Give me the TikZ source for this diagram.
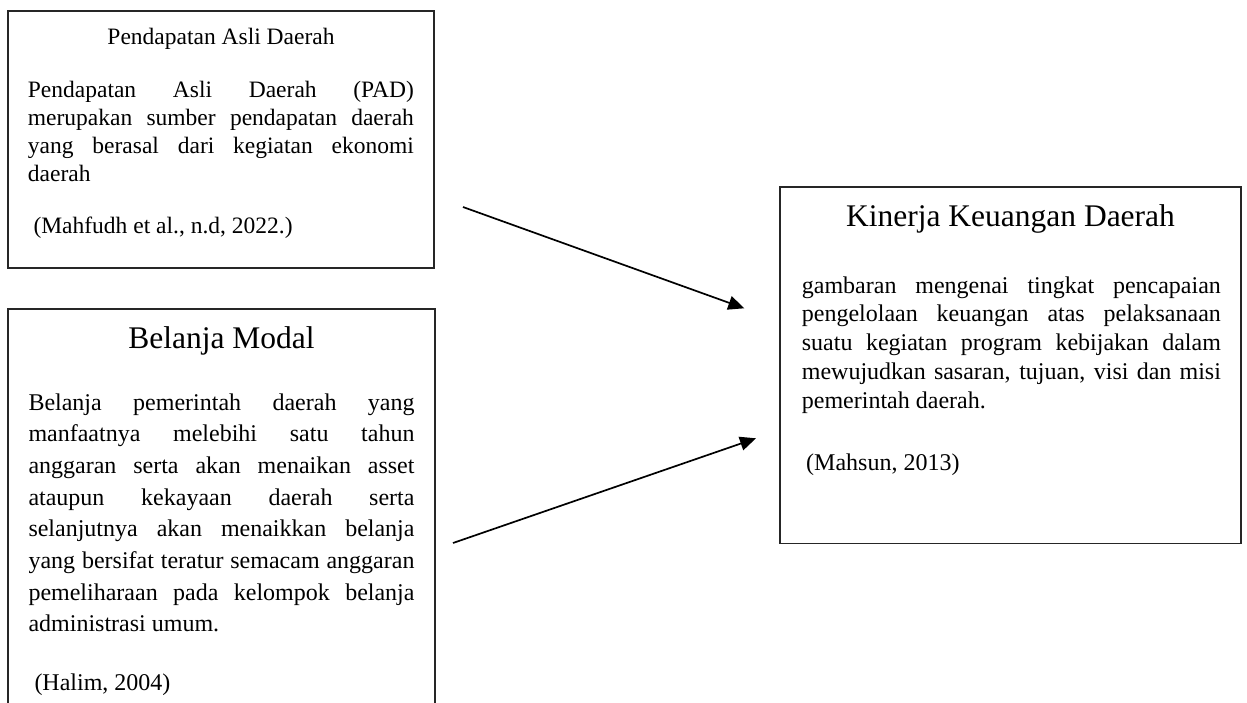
\documentclass[tikz,border=0pt]{standalone}
\usepackage{fontspec}
\setmainfont{Liberation Serif}
\usetikzlibrary{arrows.meta}
\newcommand{\jline}[2]{\makebox[#1][s]{\spaceskip=0pt\xspaceskip=0pt #2}}
\newcommand{\lline}[2]{\makebox[#1][l]{\spaceskip=0pt\xspaceskip=0pt #2}}
\begin{document}
\begin{tikzpicture}[x=1pt,y=-1pt,
  frame/.style={draw=black!85, line width=1.2pt, inner sep=0pt, outer sep=0pt, anchor=north west},
  ttl/.style={anchor=base, inner sep=0pt},
  bodytxt/.style={anchor=base west, inner sep=0pt, align=left},
  cite/.style={anchor=base west, inner sep=0pt},
  conn/.style={line width=1.7pt, -{Triangle[length=16pt,width=14pt]}}]
\useasboundingbox (0,0) rectangle (1247,702);

% Box 1: Pendapatan Asli Daerah
\node[frame, minimum width=426pt, minimum height=257pt] (pad) at (8,11) {};
\node[ttl, font=\fontsize{23.5pt}{27.8pt}\selectfont] (padT) at (221,44.3) {Pendapatan Asli Daerah};
\node[bodytxt, text width=386pt, font=\fontsize{23.5pt}{27.8pt}\selectfont] (padB) at (27.7,97.7)
  {\jline{386pt}{Pendapatan Asli Daerah (PAD)}\\
   \jline{386pt}{merupakan sumber pendapatan daerah}\\
   \jline{386pt}{yang berasal dari kegiatan ekonomi}\\
   \lline{386pt}{daerah}};
\node[cite, font=\fontsize{23.5pt}{27.8pt}\selectfont] (padC) at (33.3,233.3) {(Mahfudh et al., n.d, 2022.)};

% Box 2: Belanja Modal (open at the bottom)
\node[inner sep=0pt, outer sep=0pt, anchor=north west, minimum width=427pt, minimum height=394pt] (bm) at (8,309) {};
\draw[draw=black!85, line width=1.2pt] (bm.south west) |- (bm.north east) -- (bm.south east);
\node[ttl, font=\fontsize{31.5pt}{36pt}\selectfont] (bmT) at (221.5,348.3) {Belanja Modal};
\node[bodytxt, text width=386pt, font=\fontsize{24pt}{31.7pt}\selectfont] (bmB) at (28.3,410)
  {\jline{386pt}{Belanja pemerintah daerah yang}\\
   \jline{386pt}{manfaatnya melebihi satu tahun}\\
   \jline{386pt}{anggaran serta akan menaikan asset}\\
   \jline{386pt}{ataupun kekayaan daerah serta}\\
   \jline{386pt}{selanjutnya akan menaikkan belanja}\\
   \jline{386pt}{yang bersifat teratur semacam anggaran}\\
   \jline{386pt}{pemeliharaan pada kelompok belanja}\\
   \lline{386pt}{administrasi umum.}};
\node[cite, font=\fontsize{24pt}{31.7pt}\selectfont] (bmC) at (34.3,690) {(Halim, 2004)};

% Box 3: Kinerja Keuangan Daerah
\node[frame, minimum width=461pt, minimum height=356.5pt] (kkd) at (780,187) {};
\node[ttl, font=\fontsize{31.5pt}{36pt}\selectfont] (kkdT) at (1010.5,226) {Kinerja Keuangan Daerah};
\node[bodytxt, text width=419pt, font=\fontsize{24pt}{28.8pt}\selectfont] (kkdB) at (801.7,293)
  {\jline{419pt}{gambaran mengenai tingkat pencapaian}\\
   \jline{419pt}{pengelolaan keuangan atas pelaksanaan}\\
   \jline{419pt}{suatu kegiatan program kebijakan dalam}\\
   \jline{419pt}{mewujudkan sasaran, tujuan, visi dan misi}\\
   \lline{419pt}{pemerintah daerah.}};
\node[cite, font=\fontsize{24pt}{28.8pt}\selectfont] (kkdC) at (806,470) {(Mahsun, 2013)};

% Arrows
\coordinate (a1s) at (463,207);
\coordinate (a1e) at (744.3,308.3);
\coordinate (a2s) at (453,543);
\coordinate (a2e) at (756,438.3);
\draw[conn] (a1s) -- (a1e);
\draw[conn] (a2s) -- (a2e);
\end{tikzpicture}
\end{document}
